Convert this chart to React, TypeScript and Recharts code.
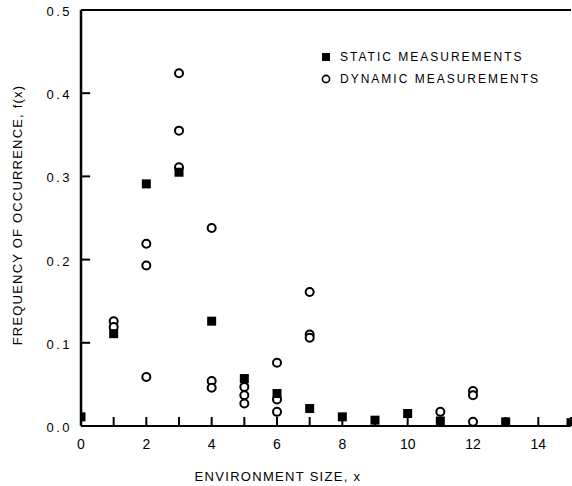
import React from "react";
import { ScatterChart, Scatter, XAxis, YAxis, ReferenceLine, Label } from "recharts";

// ---- data ----
const staticX = [0, 1, 2, 3, 4, 5, 6, 7, 8, 9, 10, 11, 13, 15];
const staticY = [0.011, 0.111, 0.291, 0.305, 0.126, 0.057, 0.039, 0.021, 0.011, 0.007, 0.015, 0.006, 0.005, 0.004];

const dynamicX = [1, 1, 2, 2, 2, 3, 3, 3, 4, 4, 4, 5, 5, 5, 6, 6, 6, 7, 7, 7, 11, 12, 12, 12];
const dynamicY = [
  0.126, 0.119, 0.219, 0.193, 0.059, 0.424, 0.355, 0.311, 0.238, 0.054, 0.046,
  0.047, 0.037, 0.027, 0.076, 0.032, 0.017, 0.161, 0.110, 0.106, 0.017, 0.042, 0.037, 0.005,
];

const xTicks = [0, 1, 2, 3, 4, 5, 6, 7, 8, 9, 10, 11, 12, 13, 14, 15];
const xLabelTicks = [0, 2, 4, 6, 8, 10, 12, 14];
const yTicks = [0, 0.1, 0.2, 0.3, 0.4, 0.5];
const yTickLabels = ["0.0", "0.1", "0.2", "0.3", "0.4", "0.5"];

const seriesNames = ["STATIC MEASUREMENTS", "DYNAMIC MEASUREMENTS"];
const xTitle = "ENVIRONMENT SIZE, x";
const yTitle = "FREQUENCY OF OCCURRENCE, f(x)";

const staticData = staticX.map((x, i) => ({ x, y: staticY[i] }));
const dynamicData = dynamicX.map((x, i) => ({ x, y: dynamicY[i] }));

// ---- layout ----
const W = 572;
const H = 486;
const PLOT_LEFT = 81;
const PLOT_TOP = 10;
const PLOT_BOTTOM = 426;
const FONT = "'Liberation Sans', Arial, sans-serif";
// inward tick length, expressed in axis units (~9px)
const X_TICK_LEN = 0.0108;
const Y_TICK_LEN = 0.28;

const SquareShape = (props: any) => {
  const { cx, cy } = props;
  if (cx == null || cy == null) return null;
  return <rect x={cx - 4.5} y={cy - 4.5} width={9} height={9} fill="#000" />;
};

const CircleShape = (props: any) => {
  const { cx, cy } = props;
  if (cx == null || cy == null) return null;
  return <circle cx={cx} cy={cy} r={4} fill="#fff" stroke="#000" strokeWidth={2} />;
};

const XTick = (props: any) => {
  const { x, payload } = props;
  const v = payload.value;
  if (!xLabelTicks.includes(v)) return <g />;
  return (
    <text x={x} y={PLOT_BOTTOM + 23} textAnchor="middle" fontSize={14} fontFamily={FONT} fill="#000">
      {String(v)}
    </text>
  );
};

const YTick = (props: any) => {
  const { y, payload } = props;
  const idx = yTicks.findIndex((t) => Math.abs(t - payload.value) < 1e-9);
  return (
    <text x={72} y={y + 6} textAnchor="end" fontSize={13} letterSpacing={2.5} fontFamily={FONT} fill="#000">
      {idx >= 0 ? yTickLabels[idx] : ""}
    </text>
  );
};

export default function App() {
  return (
    <div style={{ position: "absolute", left: 0, top: 0, width: W, height: H, background: "#fff", overflow: "hidden" }}>
      <ScatterChart width={W} height={H} margin={{ top: PLOT_TOP, right: 1, left: 0, bottom: 0 }}>
        <XAxis
          type="number"
          dataKey="x"
          domain={[0, 15]}
          ticks={xTicks}
          interval={0}
          tickLine={false}
          tick={<XTick />}
          height={H - PLOT_BOTTOM}
          axisLine={{ stroke: "#000", strokeWidth: 2 }}
          allowDataOverflow
        >
          <Label
            content={() => (
              <text x={278} y={481} textAnchor="middle" fontSize={13} letterSpacing={1.3} fontFamily={FONT} fill="#000">
                {xTitle}
              </text>
            )}
          />
        </XAxis>
        <YAxis
          type="number"
          dataKey="y"
          domain={[0, 0.5]}
          ticks={yTicks}
          interval={0}
          tickLine={false}
          tick={<YTick />}
          width={PLOT_LEFT}
          axisLine={{ stroke: "#000", strokeWidth: 2.5 }}
          allowDataOverflow
        >
          <Label
            content={() => (
              <text
                x={22}
                y={215}
                transform="rotate(-90 22 215)"
                textAnchor="middle"
                fontSize={13}
                letterSpacing={1.2}
                fontFamily={FONT}
                fill="#000"
              >
                {yTitle}
              </text>
            )}
          />
        </YAxis>
        <ReferenceLine y={0.5} stroke="#000" strokeWidth={2} />
        {xTicks.map((t) => (
          <ReferenceLine
            key={"xt" + t}
            segment={[
              { x: t, y: 0 },
              { x: t, y: X_TICK_LEN },
            ]}
            stroke="#000"
            strokeWidth={2}
            ifOverflow="visible"
          />
        ))}
        {yTicks
          .filter((t) => t > 0 && t < 0.5)
          .map((t) => (
            <ReferenceLine
              key={"yt" + t}
              segment={[
                { x: 0, y: t },
                { x: Y_TICK_LEN, y: t },
              ]}
              stroke="#000"
              strokeWidth={2}
              ifOverflow="visible"
            />
          ))}
        <Scatter name={seriesNames[1]} data={dynamicData} shape={<CircleShape />} isAnimationActive={false} />
        <Scatter name={seriesNames[0]} data={staticData} shape={<SquareShape />} isAnimationActive={false} />
      </ScatterChart>
      <div style={{ position: "absolute", left: 321, top: 46, fontFamily: FONT, fontSize: 12, letterSpacing: 2, color: "#000", lineHeight: "22px" }}>
        <div style={{ display: "flex", alignItems: "center" }}>
          <svg width={10} height={10} style={{ marginRight: 9 }}>
            <rect x={1} y={1} width={8} height={8} fill="#000" />
          </svg>
          <span>{seriesNames[0]}</span>
        </div>
        <div style={{ display: "flex", alignItems: "center" }}>
          <svg width={10} height={10} style={{ marginRight: 9 }}>
            <circle cx={5} cy={5} r={3.6} fill="#fff" stroke="#000" strokeWidth={1.6} />
          </svg>
          <span>{seriesNames[1]}</span>
        </div>
      </div>
    </div>
  );
}
